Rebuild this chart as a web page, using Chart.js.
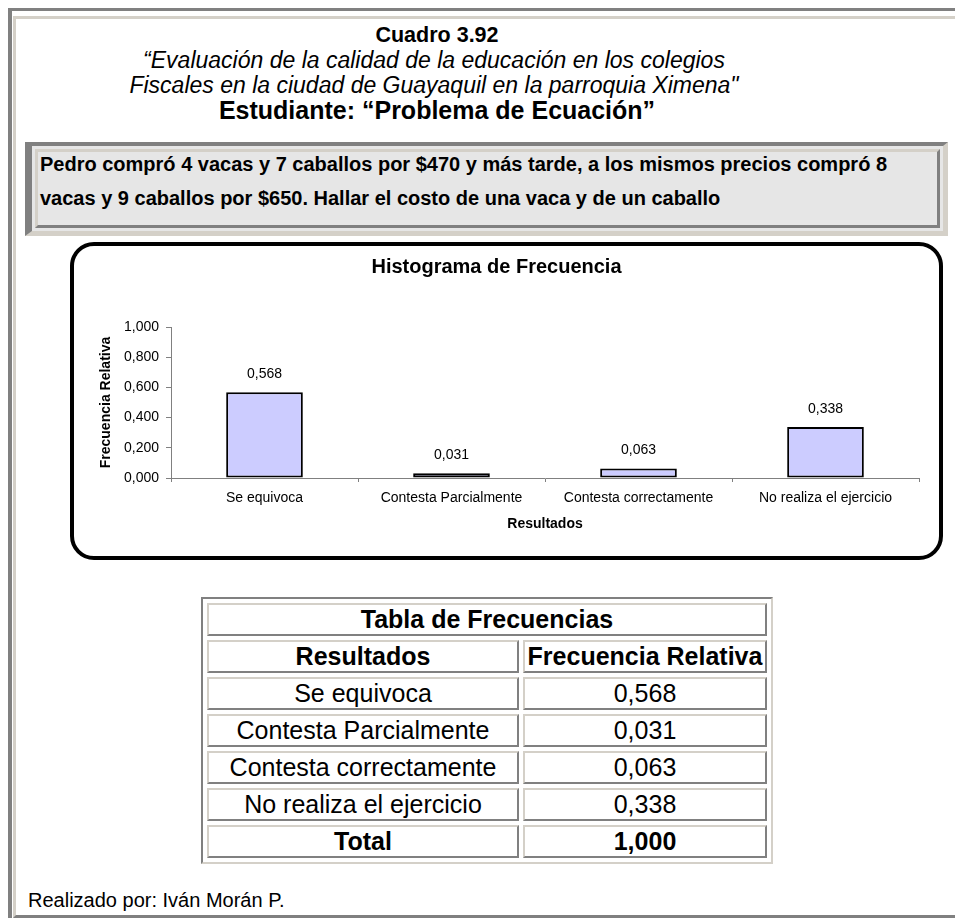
<!DOCTYPE html>
<html>
<head>
<meta charset="utf-8">
<script src="https://cdn.jsdelivr.net/npm/chart.js@4.4.1/dist/chart.umd.min.js"></script>
<style>
  body { margin: 0; background: #fff; font-family: "Liberation Sans", Arial, sans-serif; color: #000; }
  .abs { position: absolute; white-space: nowrap; line-height: 1; }
  .frame1 { position: absolute; left: 8px; top: 8px; width: 1000px; height: 1000px;
    border-top: 3px solid #808080; border-left: 4px solid #808080; }
  .frame2 { position: absolute; left: 13px; top: 16px; width: 1000px; height: 902px; box-sizing: border-box;
    border-top: 3px solid #d4d0c8; border-left: 3px solid #d4d0c8; border-bottom: 3px solid #808080; }
  .center { transform: translateX(-50%); }
  .prob-outer { position: absolute; left: 25px; top: 142px; width: 923px; height: 94px; box-sizing: border-box;
    border-top: 4px solid #808080; border-left: 7px solid #808080;
    border-right: 5px solid #d4d0c8; border-bottom: 5px solid #d4d0c8; background: #e6e6e6; padding: 3px; }
  .prob-cell { width: 100%; height: 100%; box-sizing: border-box; background: #e6e6e6;
    border-top: 3px solid #d4d0c8; border-left: 3px solid #d4d0c8;
    border-right: 3px solid #808080; border-bottom: 3px solid #808080; }
  .chart-box { position: absolute; left: 70px; top: 242px; width: 873px; height: 318px; box-sizing: border-box;
    border: 4px solid #000; border-radius: 24px; background: #fff; }
  #chart { position: absolute; left: 74px; top: 246px; }
  table.freq { position: absolute; left: 201px; top: 597px; border-collapse: separate; border-spacing: 4px;
    border-top: 2px solid #808080; border-left: 2px solid #808080;
    border-right: 2px solid #d4d0c8; border-bottom: 2px solid #d4d0c8; table-layout: fixed; }
  table.freq td { box-sizing: border-box; height: 33px; padding: 0; text-align: center; font-size: 25px;
    border-top: 2px solid #d4d0c8; border-left: 2px solid #d4d0c8;
    border-right: 2px solid #808080; border-bottom: 2px solid #808080; line-height: 1; white-space: nowrap; }
  table.freq td.b { font-weight: bold; }
</style>
</head>
<body>
<div class="frame1"></div>
<div class="frame2"></div>

<div class="abs center" style="left:437px; top:25px; font-size:21.5px; font-weight:bold;">Cuadro 3.92</div>
<div class="abs center" style="left:434px; top:49px; font-size:23px; font-style:italic;">“Evaluación de la calidad de la educación en los colegios</div>
<div class="abs center" style="left:434px; top:74px; font-size:23px; font-style:italic;">Fiscales en la ciudad de Guayaquil en la parroquia Ximena"</div>
<div class="abs center" style="left:437px; top:98px; font-size:25px; font-weight:bold;">Estudiante: “Problema de Ecuación”</div>

<div class="prob-outer"><div class="prob-cell"></div></div>
<div class="abs" style="left:40px; top:154px; font-size:20px; font-weight:bold;">Pedro compró 4 vacas y 7 caballos por $470 y más tarde, a los mismos precios compró 8</div>
<div class="abs" style="left:40px; top:188px; font-size:20px; font-weight:bold;">vacas y 9 caballos por $650. Hallar el costo de una vaca y de un caballo</div>

<div class="chart-box"></div>
<canvas id="chart" width="865" height="310"></canvas>

<table class="freq" id="freqTable">
  <colgroup><col style="width:312px"><col style="width:244px"></colgroup>
</table>

<div class="abs" style="left:28px; top:890px; font-size:20px;">Realizado por: Iván Morán P.</div>

<script>
  // datos del cuadro
  const categories = ["Se equivoca", "Contesta Parcialmente", "Contesta correctamente", "No realiza el ejercicio"];
  const relFreq = [0.568, 0.031, 0.063, 0.338];
  const totalFreq = 1.0;
  const yMin = 0;
  const yMax = 1;
  const yStep = 0.2;

  const fmt = (v) => Number(v).toFixed(3).replace(".", ",");

  // tabla de frecuencias
  const table = document.getElementById("freqTable");
  const addRow = (cells) => {
    const tr = document.createElement("tr");
    cells.forEach((c) => {
      const td = document.createElement("td");
      td.textContent = c.text;
      if (c.bold) td.className = "b";
      if (c.span) td.colSpan = c.span;
      tr.appendChild(td);
    });
    table.appendChild(tr);
  };
  addRow([{ text: "Tabla de Frecuencias", bold: true, span: 2 }]);
  addRow([{ text: "Resultados", bold: true }, { text: "Frecuencia Relativa", bold: true }]);
  categories.forEach((cat, i) => addRow([{ text: cat }, { text: fmt(relFreq[i]) }]));
  addRow([{ text: "Total", bold: true }, { text: fmt(totalFreq), bold: true }]);

  Chart.defaults.font.family = '"Liberation Sans", Arial, sans-serif';
  Chart.defaults.color = "#000";

  // etiquetas de valor encima de cada barra
  const valueLabels = {
    id: "valueLabels",
    afterDatasetsDraw(chart) {
      const ctx = chart.ctx;
      const meta = chart.getDatasetMeta(0);
      ctx.save();
      ctx.font = '14px "Liberation Sans", Arial, sans-serif';
      ctx.fillStyle = "#000";
      ctx.textAlign = "center";
      ctx.textBaseline = "middle";
      meta.data.forEach((bar, i) => {
        ctx.fillText(fmt(chart.data.datasets[0].data[i]), bar.x, bar.y - 18);
      });
      ctx.restore();
    },
  };

  new Chart(document.getElementById("chart"), {
    type: "bar",
    data: {
      labels: categories,
      datasets: [
        {
          data: relFreq,
          backgroundColor: "#ccccff",
          borderColor: "#000",
          borderWidth: 2,
          borderSkipped: false,
          categoryPercentage: 1,
          barPercentage: 0.41,
        },
      ],
    },
    options: {
      responsive: false,
      animation: false,
      devicePixelRatio: 1,
      layout: { padding: { left: 0, right: 20, top: 0, bottom: 18 } },
      plugins: {
        legend: { display: false },
        tooltip: { enabled: false },
        title: {
          display: true,
          text: "Histograma de Frecuencia",
          color: "#000",
          font: { size: 20, weight: "bold" },
          padding: { top: 9, bottom: 48 },
        },
      },
      scales: {
        x: {
          grid: { offset: true, drawOnChartArea: false, drawTicks: true, tickLength: 4, color: "#808080" },
          border: { color: "#808080", width: 1 },
          ticks: { color: "#000", font: { size: 14 }, padding: 8, maxRotation: 0, autoSkip: false },
          title: { display: true, text: "Resultados", color: "#000", font: { size: 14, weight: "bold" }, padding: { top: 0, bottom: 5 } },
          afterFit: (s) => { s.height = 60; },
        },
        y: {
          min: yMin,
          max: yMax,
          ticks: { stepSize: yStep, callback: (v) => fmt(v), color: "#000", font: { size: 14 }, padding: 7 },
          grid: { drawOnChartArea: false, tickLength: 5, color: "#808080" },
          border: { color: "#808080", width: 1 },
          title: { display: true, text: "Frecuencia Relativa", color: "#000", font: { size: 14, weight: "bold" }, padding: { top: 24, bottom: 0 } },
          afterFit: (s) => { s.width = 97; },
        },
      },
    },
    plugins: [valueLabels],
  });
</script>
</body>
</html>
